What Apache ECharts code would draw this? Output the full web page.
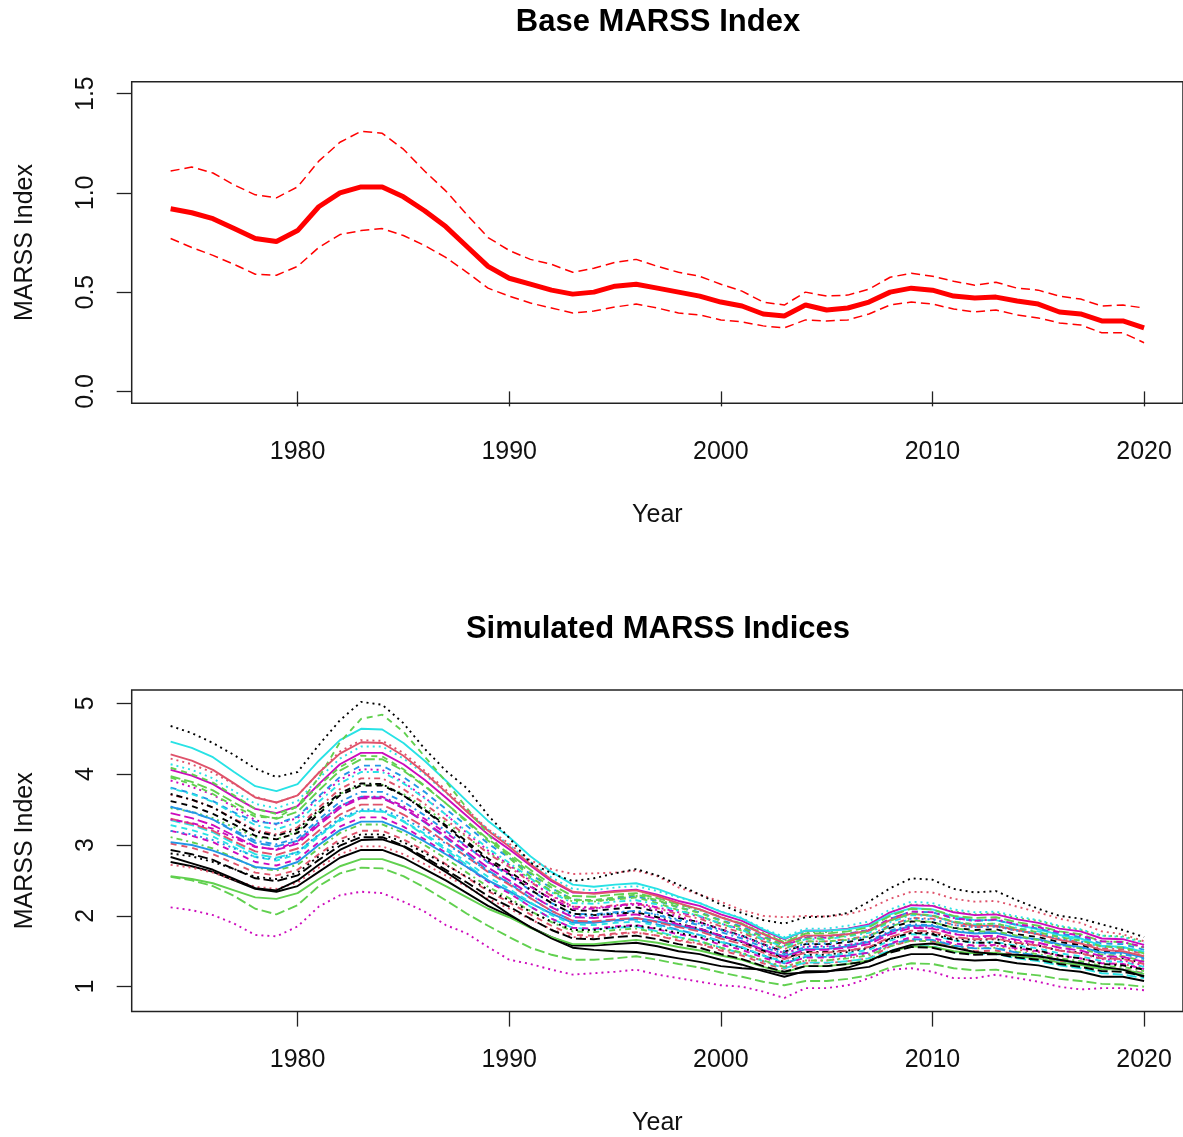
<!DOCTYPE html>
<html><head><meta charset="utf-8">
<script src="https://cdn.jsdelivr.net/npm/echarts@6/dist/echarts.min.js"></script>
<style>html,body{margin:0;padding:0;background:#fff}#c{width:1183px;height:1137px}</style>
</head><body><div id="c"></div>
<script>
// ---------- data ----------
const years = [1974,1975,1976,1977,1978,1979,1980,1981,1982,1983,1984,1985,1986,1987,1988,1989,1990,1991,1992,1993,1994,1995,1996,1997,1998,1999,2000,2001,2002,2003,2004,2005,2006,2007,2008,2009,2010,2011,2012,2013,2014,2015,2016,2017,2018,2019,2020];
const xTicks = [1980,1990,2000,2010,2020];
const yTicksTop = [0,0.5,1.0,1.5];
const yTicksBottom = [1,2,3,4,5];

const baseIndex = [0.92,0.90,0.87,0.82,0.77,0.755,0.81,0.93,1.00,1.03,1.03,0.98,0.91,0.83,0.73,0.63,0.57,0.54,0.51,0.49,0.50,0.53,0.54,0.52,0.50,0.48,0.45,0.43,0.39,0.38,0.435,0.41,0.42,0.45,0.50,0.52,0.51,0.48,0.47,0.475,0.455,0.44,0.40,0.39,0.355,0.355,0.32];
const upperCI = [1.11,1.13,1.10,1.04,0.99,0.975,1.03,1.16,1.255,1.31,1.30,1.22,1.11,1.01,0.89,0.775,0.71,0.665,0.64,0.60,0.62,0.65,0.665,0.63,0.60,0.58,0.54,0.505,0.45,0.435,0.50,0.48,0.485,0.515,0.575,0.595,0.58,0.555,0.535,0.55,0.52,0.51,0.48,0.465,0.43,0.435,0.42];
const lowerCI = [0.77,0.725,0.685,0.64,0.59,0.585,0.63,0.725,0.79,0.81,0.82,0.785,0.735,0.675,0.60,0.52,0.48,0.445,0.42,0.395,0.405,0.425,0.44,0.42,0.395,0.385,0.36,0.35,0.33,0.32,0.36,0.355,0.36,0.39,0.435,0.45,0.44,0.415,0.40,0.41,0.385,0.37,0.345,0.335,0.295,0.295,0.245];

// simulated indices
const sim01 = [2.76,2.70,2.62,2.50,2.38,2.34,2.42,2.62,2.82,2.93,2.93,2.82,2.66,2.50,2.32,2.14,2.00,1.84,1.70,1.58,1.58,1.60,1.62,1.57,1.50,1.46,1.38,1.31,1.22,1.14,1.22,1.22,1.24,1.28,1.39,1.46,1.46,1.39,1.37,1.38,1.33,1.30,1.24,1.21,1.14,1.14,1.08];
const sim02 = [3.52,3.47,3.38,3.25,3.11,3.08,3.19,3.47,3.72,3.85,3.85,3.72,3.53,3.32,3.11,2.89,2.72,2.52,2.34,2.20,2.20,2.24,2.28,2.22,2.15,2.08,1.98,1.89,1.76,1.65,1.77,1.77,1.82,1.88,2.05,2.16,2.15,2.06,2.02,2.04,1.97,1.93,1.85,1.80,1.72,1.71,1.63];
const sim03 = [3.35,3.28,3.18,3.02,2.87,2.82,2.90,3.14,3.36,3.48,3.47,3.33,3.14,2.93,2.72,2.50,2.33,2.13,1.96,1.83,1.81,1.83,1.85,1.78,1.70,1.64,1.55,1.47,1.36,1.26,1.34,1.34,1.36,1.40,1.51,1.58,1.57,1.49,1.46,1.46,1.40,1.36,1.30,1.26,1.19,1.17,1.12];
const sim04 = [3.62,3.55,3.44,3.29,3.13,3.08,3.17,3.44,3.70,3.84,3.84,3.70,3.50,3.28,3.05,2.81,2.63,2.42,2.23,2.08,2.07,2.10,2.12,2.06,1.97,1.91,1.81,1.72,1.60,1.49,1.60,1.60,1.63,1.68,1.83,1.92,1.91,1.83,1.80,1.81,1.74,1.70,1.63,1.59,1.50,1.49,1.42];
const sim05 = [3.11,3.04,2.95,2.82,2.68,2.64,2.72,2.95,3.17,3.29,3.29,3.17,3.00,2.81,2.61,2.41,2.25,2.07,1.91,1.78,1.77,1.80,1.82,1.76,1.69,1.64,1.55,1.48,1.37,1.28,1.37,1.37,1.40,1.44,1.57,1.65,1.64,1.57,1.54,1.55,1.49,1.46,1.40,1.36,1.29,1.28,1.22];
const sim06 = [4.46,4.37,4.24,4.03,3.83,3.76,3.86,4.19,4.48,4.64,4.63,4.44,4.19,3.91,3.62,3.34,3.11,2.84,2.62,2.44,2.41,2.44,2.46,2.38,2.27,2.18,2.06,1.96,1.81,1.68,1.79,1.79,1.81,1.86,2.02,2.11,2.09,1.99,1.94,1.94,1.87,1.81,1.73,1.68,1.58,1.56,1.49];
const sim07 = [2.88,2.84,2.76,2.66,2.55,2.52,2.61,2.84,3.04,3.15,3.15,3.04,2.89,2.72,2.55,2.37,2.22,2.06,1.92,1.80,1.80,1.84,1.86,1.82,1.76,1.70,1.62,1.55,1.44,1.35,1.45,1.45,1.49,1.54,1.67,1.76,1.76,1.68,1.66,1.67,1.61,1.58,1.51,1.48,1.40,1.40,1.33];
const sim08 = [3.97,3.89,3.77,3.60,3.43,3.37,3.47,3.77,4.05,4.21,4.21,4.05,3.83,3.59,3.34,3.08,2.88,2.65,2.44,2.28,2.27,2.30,2.32,2.25,2.16,2.09,1.98,1.89,1.75,1.63,1.75,1.75,1.78,1.84,2.00,2.10,2.09,2.00,1.97,1.98,1.91,1.86,1.78,1.74,1.64,1.63,1.55];
const sim09 = [3.28,3.21,3.12,2.97,2.83,2.78,2.87,3.12,3.34,3.48,3.48,3.34,3.16,2.96,2.76,2.55,2.38,2.19,2.01,1.88,1.87,1.90,1.92,1.86,1.79,1.73,1.63,1.56,1.44,1.35,1.44,1.44,1.47,1.52,1.65,1.74,1.73,1.65,1.62,1.63,1.58,1.54,1.47,1.43,1.36,1.35,1.28];
const sim10 = [3.72,3.64,3.53,3.36,3.19,3.13,3.22,3.49,3.73,3.87,3.86,3.70,3.49,3.26,3.02,2.78,2.59,2.37,2.18,2.03,2.01,2.03,2.05,1.98,1.89,1.82,1.72,1.63,1.51,1.40,1.49,1.49,1.51,1.55,1.68,1.76,1.74,1.66,1.62,1.62,1.56,1.51,1.44,1.40,1.32,1.30,1.24];
const sim11 = [2.56,2.52,2.46,2.36,2.26,2.24,2.32,2.52,2.70,2.80,2.80,2.70,2.57,2.42,2.26,2.10,1.98,1.83,1.70,1.60,1.60,1.63,1.66,1.62,1.56,1.51,1.44,1.38,1.28,1.20,1.29,1.29,1.32,1.37,1.49,1.57,1.56,1.50,1.47,1.48,1.43,1.40,1.34,1.31,1.25,1.24,1.18];
const sim12 = [4.14,4.06,3.94,3.76,3.58,3.52,3.62,3.94,4.22,4.39,4.39,4.22,4.00,3.74,3.48,3.22,3.00,2.76,2.54,2.38,2.36,2.40,2.42,2.35,2.26,2.18,2.06,1.97,1.82,1.70,1.82,1.82,1.86,1.92,2.09,2.20,2.18,2.09,2.05,2.06,1.99,1.94,1.86,1.81,1.72,1.70,1.62];
const sim13 = [2.93,2.87,2.79,2.66,2.53,2.49,2.57,2.79,2.99,3.11,3.11,2.99,2.83,2.65,2.47,2.28,2.13,1.96,1.80,1.68,1.67,1.70,1.72,1.67,1.60,1.55,1.46,1.39,1.29,1.21,1.29,1.29,1.32,1.36,1.48,1.56,1.55,1.48,1.45,1.46,1.41,1.38,1.32,1.28,1.22,1.21,1.15];
const sim14 = [4.09,4.00,3.88,3.70,3.51,3.44,3.54,3.84,4.10,4.26,4.25,4.07,3.84,3.59,3.32,3.06,2.85,2.61,2.40,2.23,2.21,2.23,2.26,2.18,2.08,2.00,1.89,1.79,1.66,1.54,1.64,1.64,1.66,1.71,1.85,1.94,1.91,1.83,1.78,1.78,1.72,1.66,1.58,1.54,1.45,1.43,1.36];
const sim15 = [3.20,3.15,3.07,2.95,2.83,2.80,2.90,3.15,3.38,3.50,3.50,3.38,3.21,3.02,2.83,2.63,2.47,2.29,2.13,2.00,2.00,2.04,2.07,2.02,1.95,1.89,1.80,1.72,1.60,1.50,1.61,1.61,1.65,1.71,1.86,1.96,1.95,1.87,1.84,1.85,1.79,1.75,1.68,1.64,1.56,1.55,1.48];
const sim16 = [3.80,3.72,3.61,3.44,3.28,3.22,3.32,3.61,3.87,4.03,4.03,3.87,3.66,3.43,3.19,2.95,2.75,2.53,2.33,2.18,2.17,2.20,2.22,2.16,2.07,2.00,1.89,1.80,1.67,1.56,1.67,1.67,1.71,1.76,1.91,2.01,2.00,1.91,1.88,1.89,1.83,1.78,1.71,1.66,1.57,1.56,1.49];
const sim17 = [3.45,3.38,3.28,3.13,2.98,2.93,3.02,3.28,3.52,3.66,3.66,3.52,3.33,3.12,2.90,2.68,2.50,2.30,2.12,1.98,1.97,2.00,2.02,1.96,1.88,1.82,1.72,1.64,1.52,1.42,1.52,1.52,1.55,1.60,1.74,1.83,1.82,1.74,1.71,1.72,1.66,1.62,1.55,1.51,1.43,1.42,1.35];
const sim18 = [2.55,2.50,2.42,2.28,2.10,2.02,2.15,2.42,2.60,2.68,2.67,2.56,2.40,2.22,2.03,1.86,1.70,1.55,1.45,1.38,1.38,1.40,1.43,1.38,1.32,1.27,1.20,1.14,1.07,1.02,1.08,1.08,1.11,1.16,1.27,1.33,1.32,1.26,1.23,1.24,1.19,1.16,1.11,1.08,1.04,1.03,1.00];
const sim19 = [3.95,3.86,3.72,3.55,3.40,3.38,3.55,3.95,4.45,4.78,4.84,4.60,4.25,3.90,3.52,3.15,2.82,2.55,2.35,2.22,2.22,2.26,2.30,2.22,2.12,2.04,1.93,1.83,1.70,1.58,1.68,1.68,1.72,1.78,1.93,2.03,2.01,1.92,1.88,1.89,1.82,1.77,1.70,1.65,1.57,1.55,1.47];
const sim20 = [2.83,2.74,2.65,2.52,2.39,2.36,2.50,2.72,2.93,3.07,3.08,2.98,2.80,2.62,2.42,2.22,2.02,1.84,1.68,1.55,1.52,1.50,1.49,1.45,1.40,1.35,1.29,1.26,1.24,1.18,1.20,1.21,1.27,1.36,1.50,1.59,1.61,1.55,1.49,1.46,1.45,1.43,1.38,1.33,1.28,1.24,1.14];
const sim21 = [2.12,2.08,2.01,1.89,1.73,1.71,1.85,2.13,2.29,2.34,2.32,2.20,2.06,1.87,1.75,1.56,1.38,1.32,1.24,1.17,1.19,1.21,1.24,1.17,1.12,1.07,1.02,1.00,0.93,0.84,0.98,0.98,1.02,1.12,1.24,1.26,1.21,1.12,1.12,1.17,1.12,1.07,1.00,0.96,0.98,0.98,0.95];
const sim22 = [4.22,4.14,4.02,3.86,3.68,3.60,3.70,4.02,4.32,4.48,4.47,4.30,4.05,3.78,3.50,3.22,3.02,2.78,2.66,2.59,2.60,2.61,2.64,2.56,2.40,2.30,2.20,2.08,2.00,1.98,2.00,1.99,2.02,2.10,2.24,2.34,2.33,2.24,2.20,2.21,2.13,2.05,1.96,1.90,1.78,1.74,1.64];
const sim23 = [4.68,4.58,4.44,4.27,4.08,3.96,4.03,4.41,4.76,5.02,4.98,4.72,4.36,4.05,3.80,3.42,3.10,2.75,2.60,2.49,2.53,2.60,2.66,2.57,2.44,2.30,2.16,2.04,1.94,1.89,1.98,1.99,2.04,2.20,2.39,2.53,2.51,2.38,2.33,2.35,2.22,2.10,2.00,1.96,1.88,1.80,1.70];
const sim24 = [3.02,2.96,2.87,2.74,2.61,2.57,2.65,2.87,3.08,3.20,3.20,3.08,2.92,2.73,2.54,2.35,2.19,2.02,1.86,1.73,1.72,1.75,1.77,1.72,1.65,1.60,1.51,1.44,1.33,1.25,1.33,1.33,1.36,1.40,1.57,1.65,1.64,1.57,1.50,1.51,1.45,1.42,1.36,1.32,1.26,1.25,1.19];
const sim25 = [3.20,3.13,3.04,2.90,2.76,2.71,2.80,3.04,3.26,3.39,3.39,3.26,3.08,2.89,2.69,2.48,2.32,2.13,1.96,1.83,1.82,1.85,1.87,1.81,1.74,1.69,1.59,1.52,1.41,1.32,1.41,1.41,1.44,1.48,1.61,1.70,1.69,1.61,1.58,1.59,1.54,1.50,1.44,1.40,1.33,1.32,1.25];
const sim26 = [3.37,3.30,3.20,3.05,2.91,2.86,2.95,3.20,3.43,3.57,3.57,3.43,3.25,3.04,2.83,2.62,2.44,2.25,2.07,1.93,1.92,1.95,1.97,1.91,1.84,1.78,1.68,1.60,1.48,1.39,1.48,1.48,1.51,1.56,1.70,1.79,1.78,1.70,1.67,1.68,1.62,1.58,1.51,1.47,1.40,1.39,1.32];
const sim27 = [3.54,3.47,3.36,3.21,3.06,3.01,3.10,3.36,3.61,3.75,3.75,3.61,3.42,3.20,2.98,2.75,2.57,2.36,2.18,2.03,2.02,2.05,2.07,2.01,1.93,1.87,1.77,1.68,1.56,1.46,1.56,1.56,1.59,1.64,1.79,1.88,1.87,1.79,1.76,1.77,1.70,1.66,1.59,1.55,1.47,1.46,1.39];
const sim28 = [3.71,3.64,3.53,3.37,3.21,3.15,3.25,3.53,3.79,3.94,3.94,3.79,3.58,3.36,3.12,2.88,2.69,2.48,2.28,2.13,2.12,2.15,2.17,2.11,2.02,1.96,1.85,1.76,1.64,1.53,1.64,1.64,1.67,1.72,1.87,1.97,1.96,1.87,1.84,1.85,1.79,1.74,1.67,1.63,1.54,1.53,1.46];
const sim29 = [3.81,3.73,3.62,3.46,3.33,3.30,3.40,3.69,3.96,4.12,4.12,3.96,3.75,3.51,3.27,3.02,2.82,2.59,2.39,2.23,2.22,2.25,2.27,2.21,2.12,2.05,1.94,1.85,1.71,1.60,1.71,1.71,1.75,1.80,1.96,2.06,2.05,1.96,1.93,1.94,1.87,1.82,1.75,1.70,1.61,1.60,1.52];
const sim30 = [4.06,3.98,3.86,3.68,3.51,3.45,3.55,3.86,4.14,4.30,4.30,4.14,3.92,3.67,3.41,3.15,2.94,2.71,2.49,2.33,2.32,2.35,2.37,2.30,2.21,2.14,2.02,1.93,1.79,1.67,1.79,1.79,1.82,1.88,2.05,2.15,2.14,2.05,2.01,2.02,1.95,1.90,1.82,1.78,1.68,1.67,1.59];
const sim31 = [2.72,2.68,2.61,2.51,2.41,2.38,2.47,2.68,2.87,2.98,2.98,2.87,2.73,2.57,2.41,2.24,2.10,1.95,1.81,1.70,1.70,1.74,1.76,1.72,1.66,1.61,1.53,1.47,1.36,1.28,1.37,1.37,1.41,1.46,1.58,1.67,1.66,1.59,1.57,1.58,1.52,1.49,1.43,1.40,1.33,1.32,1.26];
const sim32 = [3.04,3.00,2.92,2.81,2.69,2.66,2.76,3.00,3.21,3.33,3.33,3.21,3.05,2.87,2.69,2.50,2.35,2.18,2.03,1.90,1.90,1.94,1.97,1.92,1.86,1.80,1.71,1.64,1.52,1.43,1.53,1.53,1.57,1.63,1.77,1.86,1.86,1.78,1.75,1.76,1.70,1.67,1.60,1.56,1.48,1.48,1.41];
const sim33 = [3.36,3.31,3.23,3.10,2.97,2.94,3.05,3.31,3.55,3.68,3.68,3.55,3.37,3.17,2.97,2.76,2.60,2.41,2.24,2.10,2.10,2.14,2.18,2.12,2.05,1.99,1.89,1.81,1.68,1.58,1.69,1.69,1.74,1.80,1.96,2.06,2.05,1.97,1.93,1.95,1.88,1.84,1.77,1.72,1.64,1.63,1.56];
const sim34 = [3.54,3.46,3.36,3.19,3.03,2.98,3.06,3.32,3.55,3.68,3.67,3.52,3.32,3.10,2.87,2.64,2.46,2.25,2.07,1.93,1.91,1.93,1.95,1.88,1.80,1.73,1.64,1.55,1.44,1.33,1.42,1.42,1.44,1.48,1.60,1.67,1.66,1.58,1.54,1.54,1.48,1.44,1.37,1.33,1.26,1.24,1.18];
const sim35 = [3.91,3.82,3.71,3.53,3.35,3.29,3.38,3.67,3.92,4.07,4.06,3.89,3.67,3.43,3.17,2.92,2.72,2.49,2.29,2.13,2.11,2.13,2.16,2.08,1.99,1.91,1.81,1.71,1.59,1.47,1.57,1.57,1.59,1.63,1.77,1.85,1.83,1.75,1.70,1.70,1.64,1.59,1.51,1.47,1.39,1.37,1.30];
const sim36 = [4.28,4.19,4.06,3.87,3.67,3.60,3.70,4.02,4.29,4.45,4.44,4.26,4.02,3.75,3.47,3.20,2.98,2.73,2.51,2.34,2.31,2.34,2.36,2.28,2.18,2.09,1.98,1.88,1.74,1.61,1.72,1.72,1.74,1.79,1.94,2.03,2.00,1.91,1.86,1.86,1.80,1.74,1.66,1.61,1.52,1.50,1.43];

// drawing order (first drawn first), R matplot-like colour / line-type cycling
const simulations = [sim01,sim24,sim02,sim27,sim03,sim30,sim04,sim31,sim05,sim34,sim06,sim25,sim07,sim28,sim08,sim32,sim09,sim35,sim10,sim26,sim11,sim29,sim12,sim33,sim13,sim36,sim14,sim15,sim16,sim17,
                     sim18,sim19,sim20,sim21,sim22,sim23];

// ---------- styling ----------
const FONT = '"Liberation Sans", Arial, Helvetica, sans-serif';
const palette = ['#000000','#DF536B','#61D04F','#2297E6','#28E2E5','#CD0BBC'];
const ltys = ['solid',[6,5],[2,4],[2,4,6,4],[10,4]];
const extraColor = [2,2,0,5,1,0];
const extraLty   = [4,1,0,2,2,2];
const nCycle = simulations.length - extraColor.length;

const pair = arr => years.map((y, i) => [y, arr[i]]);

const chart = echarts.init(document.getElementById('c'), null, {renderer: 'canvas'});

const LEFT = 131.7, WIDTH = 1053.8, H = 321.6;
const axisTxt = {fontSize: 25, color: '#111', fontFamily: FONT};
function xAxis(gi) {
  return {
    type: 'value', gridIndex: gi, min: 1972.16, max: 2021.84,
    axisLine: {show: false}, splitLine: {show: false},
    axisTick: {show: true, customValues: xTicks, length: 15, lineStyle: {color: '#222', width: 1.3}},
    axisLabel: Object.assign({customValues: xTicks, margin: 36, formatter: v => String(v)}, axisTxt),
    name: 'Year', nameLocation: 'middle', nameGap: 99,
    nameTextStyle: axisTxt
  };
}
function yAxis(gi, min, max, ticks, fmt) {
  return {
    type: 'value', gridIndex: gi, min: min, max: max,
    axisLine: {show: false}, splitLine: {show: false},
    axisTick: {show: true, customValues: ticks, length: 15, lineStyle: {color: '#222', width: 1.3}},
    axisLabel: Object.assign({customValues: ticks, rotate: 90, margin: 33, formatter: fmt}, axisTxt),
    name: 'MARSS Index', nameLocation: 'middle', nameRotate: 90, nameGap: 94,
    nameTextStyle: axisTxt
  };
}

const series = [
  {type: 'line', xAxisIndex: 0, yAxisIndex: 0, data: pair(upperCI), showSymbol: false, silent: true,
   lineStyle: {color: '#FF0000', width: 1.5, type: [9, 5]}},
  {type: 'line', xAxisIndex: 0, yAxisIndex: 0, data: pair(lowerCI), showSymbol: false, silent: true,
   lineStyle: {color: '#FF0000', width: 1.5, type: [9, 5]}},
  {type: 'line', xAxisIndex: 0, yAxisIndex: 0, data: pair(baseIndex), showSymbol: false, silent: true,
   lineStyle: {color: '#FF0000', width: 5}}
];
simulations.forEach((arr, i) => {
  const ci = i < nCycle ? i % 6 : extraColor[i - nCycle];
  const li = i < nCycle ? i % 5 : extraLty[i - nCycle];
  series.push({type: 'line', xAxisIndex: 1, yAxisIndex: 1, data: pair(arr), showSymbol: false, silent: true,
    lineStyle: {color: palette[ci], width: 1.9, type: ltys[li]}});
});

chart.setOption({
  animation: false,
  backgroundColor: '#ffffff',
  title: [
    {text: 'Base MARSS Index', left: 658, top: 7, textAlign: 'center', padding: 0,
     textStyle: {fontSize: 31, fontWeight: 'bold', color: '#000', fontFamily: FONT}},
    {text: 'Simulated MARSS Indices', left: 658, top: 614, textAlign: 'center', padding: 0,
     textStyle: {fontSize: 31, fontWeight: 'bold', color: '#000', fontFamily: FONT}}
  ],
  grid: [
    {left: LEFT, top: 81.7, width: WIDTH, height: H, show: true, borderColor: '#222', borderWidth: 1.5, backgroundColor: 'transparent'},
    {left: LEFT, top: 690, width: WIDTH, height: H, show: true, borderColor: '#222', borderWidth: 1.5, backgroundColor: 'transparent'}
  ],
  xAxis: [xAxis(0), xAxis(1)],
  yAxis: [
    yAxis(0, -0.06, 1.56, yTicksTop, v => v.toFixed(1)),
    yAxis(1, 0.648, 5.188, yTicksBottom, v => String(v))
  ],
  series: series
});
</script></body></html>
